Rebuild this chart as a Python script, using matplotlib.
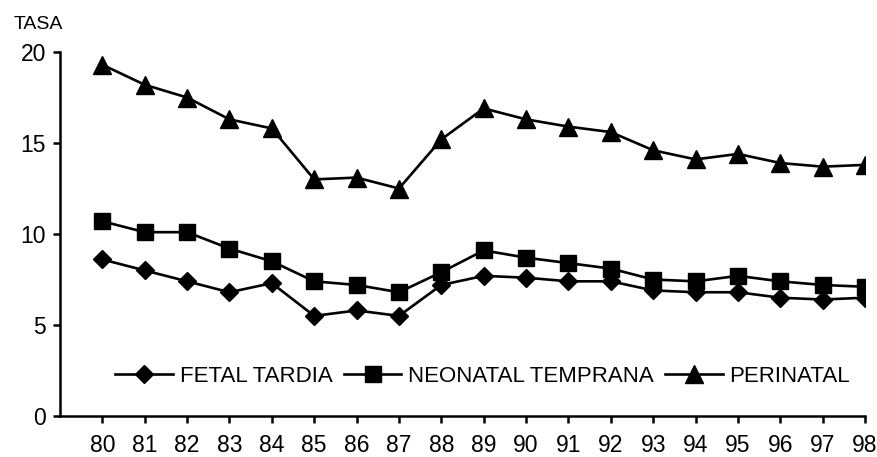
import numpy as np
import matplotlib
matplotlib.use('Agg')
import matplotlib.pyplot as plt

plt.rcParams['font.family'] = ['Liberation Sans', 'DejaVu Sans']

years = ['80', '81', '82', '83', '84', '85', '86', '87', '88', '89',
         '90', '91', '92', '93', '94', '95', '96', '97', '98']
fetal_tardia = [8.6, 8.0, 7.4, 6.8, 7.3, 5.5, 5.8, 5.5, 7.2, 7.7,
                7.6, 7.4, 7.4, 6.9, 6.8, 6.8, 6.5, 6.4, 6.5]
neonatal_temprana = [10.7, 10.1, 10.1, 9.2, 8.5, 7.4, 7.2, 6.8, 7.9, 9.1,
                     8.7, 8.4, 8.1, 7.5, 7.4, 7.7, 7.4, 7.2, 7.1]
perinatal = [19.3, 18.2, 17.5, 16.3, 15.8, 13.0, 13.1, 12.5, 15.2, 16.9,
             16.3, 15.9, 15.6, 14.6, 14.1, 14.4, 13.9, 13.7, 13.8]

fig = plt.figure(figsize=(8.78, 4.57), dpi=100)
ax = fig.add_axes([0.0683, 0.0897, 0.917, 0.7965])

x = np.arange(len(years))
ax.plot(x, fetal_tardia, color='black', lw=1.9, marker='D', ms=9.5, label='FETAL TARDIA')
ax.plot(x, neonatal_temprana, color='black', lw=1.9, marker='s', ms=11.5, label='NEONATAL TEMPRANA')
ax.plot(x, perinatal, color='black', lw=1.9, marker='^', ms=12.5, label='PERINATAL')

ax.set_xlim(-1, len(years) - 1)
ax.set_ylim(0, 20)
ax.set_yticks([0, 5, 10, 15, 20])
ax.set_xticks(x)
ax.set_xticklabels(years)
ax.tick_params(labelsize=16.5, width=1.8, length=5, color='black')
ax.tick_params(axis='x', pad=8)
ax.tick_params(axis='y', pad=5)
ax.spines['top'].set_visible(False)
ax.spines['right'].set_visible(False)
ax.spines['left'].set_linewidth(1.8)
ax.spines['bottom'].set_linewidth(1.8)

fig.text(0.016, 0.937, 'TASA', fontsize=14)

ax.legend(loc='center', bbox_to_anchor=(0.525, 0.108), ncol=3, frameon=False,
          fontsize=16, handlelength=2.6, handletextpad=0.3, columnspacing=0.5)

fig.savefig('out.png', dpi=100)
